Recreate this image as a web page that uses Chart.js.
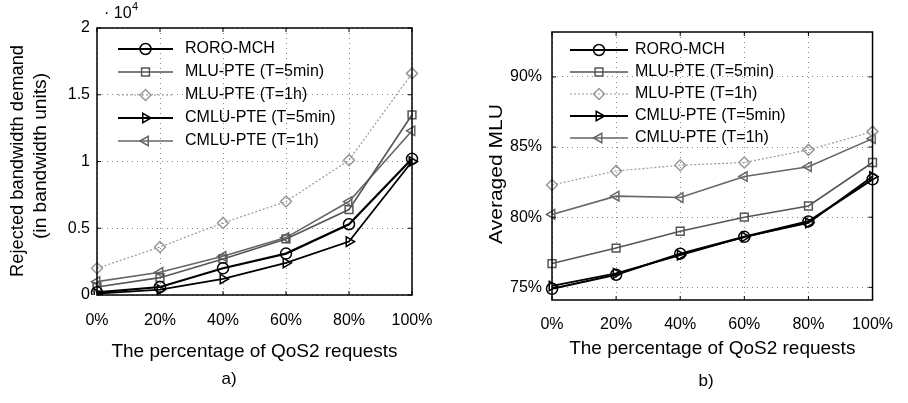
<!DOCTYPE html>
<html>
<head>
<meta charset="utf-8">
<script src="https://cdn.jsdelivr.net/npm/chart.js@4"></script>
<style>
  body { margin: 0; background: #fff; }
  .wrap { position: absolute; top: 0; width: 454px; height: 403px; }
</style>
</head>
<body>
<div class="wrap" style="left:0"><canvas id="chartA" width="454" height="403"></canvas></div>
<div class="wrap" style="left:454px"><canvas id="chartB" width="454" height="403"></canvas></div>
<script>
const FONT = "'Liberation Sans', Arial, Helvetica, sans-serif";

const labels = ['0%', '20%', '40%', '60%', '80%', '100%'];
const seriesNames = ['RORO-MCH', 'MLU-PTE (T=5min)', 'MLU-PTE (T=1h)', 'CMLU-PTE (T=5min)', 'CMLU-PTE (T=1h)'];

// a) rejected bandwidth demand, x 10^4
const roroA = [0.02, 0.06, 0.20, 0.31, 0.53, 1.02];
const mlu5A = [0.06, 0.13, 0.27, 0.42, 0.64, 1.35];
const mlu1hA = [0.20, 0.36, 0.54, 0.70, 1.01, 1.66];
const cmlu5A = [0.01, 0.04, 0.12, 0.24, 0.40, 1.00];
const cmlu1hA = [0.10, 0.17, 0.29, 0.43, 0.70, 1.23];
const yTicksA = [0, 0.5, 1, 1.5, 2];

// b) averaged MLU (%)
const roroB = [74.9, 75.9, 77.4, 78.6, 79.7, 82.7];
const mlu5B = [76.7, 77.8, 79.0, 80.0, 80.8, 83.9];
const mlu1hB = [82.3, 83.3, 83.7, 83.9, 84.8, 86.1];
const cmlu5B = [75.1, 76.0, 77.3, 78.6, 79.6, 82.9];
const cmlu1hB = [80.2, 81.5, 81.4, 82.9, 83.6, 85.6];
const yTicksB = [75, 80, 85, 90];

// line looks for the 5 series
const styles = [
    { color: '#000', width: 2.2, dash: [], point: 'circle', rot: 0 },
    { color: '#555', width: 1.6, dash: [], point: 'rect', rot: 0 },
    { color: '#999', width: 1.2, dash: [2, 2], point: 'rectRot', rot: 0 },
    { color: '#000', width: 1.8, dash: [], point: 'triangle', rot: 90 },
    { color: '#666', width: 1.6, dash: [], point: 'triangle', rot: -90 }
];

function makeDatasets(list) {
    return list.map((values, i) => ({
        label: seriesNames[i],
        data: values,
        borderColor: styles[i].color,
        borderWidth: styles[i].width,
        borderDash: styles[i].dash,
        pointStyle: styles[i].point,
        rotation: styles[i].rot,
        pointRadius: 5.5,
        pointBorderWidth: 1.5,
        pointBorderColor: styles[i].color,
        pointBackgroundColor: 'rgba(0,0,0,0)',
        tension: 0,
        fill: false
    }));
}

// box, inward ticks, legend inside the plot and the extra texts
const framePlugin = {
    id: 'frame',
    afterDraw(chart, args, opts) {
        const ctx = chart.ctx;
        const a = chart.chartArea;
        const xs = chart.scales.x, ys = chart.scales.y;
        ctx.save();
        ctx.strokeStyle = '#000';
        ctx.lineWidth = 1.5;
        ctx.setLineDash([]);
        ctx.strokeRect(a.left, a.top, a.right - a.left, a.bottom - a.top);
        ctx.lineWidth = 1;
        ctx.beginPath();
        xs.ticks.forEach((t, i) => {
            const x = xs.getPixelForTick(i);
            ctx.moveTo(x, a.bottom); ctx.lineTo(x, a.bottom - 4);
            ctx.moveTo(x, a.top); ctx.lineTo(x, a.top + 4);
        });
        ys.ticks.forEach((t, i) => {
            const y = ys.getPixelForTick(i);
            ctx.moveTo(a.left, y); ctx.lineTo(a.left + 4, y);
            ctx.moveTo(a.right, y); ctx.lineTo(a.right - 4, y);
        });
        ctx.stroke();

        // legend
        const lg = opts.legend;
        ctx.font = '16px ' + FONT;
        ctx.textBaseline = 'middle';
        chart.data.datasets.forEach((ds, i) => {
            const y = lg.y + i * lg.step;
            ctx.strokeStyle = ds.borderColor;
            ctx.lineWidth = ds.borderWidth;
            ctx.setLineDash(ds.borderDash);
            ctx.beginPath();
            ctx.moveTo(lg.x0, y); ctx.lineTo(lg.x1, y);
            ctx.stroke();
            ctx.setLineDash([]);
            ctx.lineWidth = ds.pointBorderWidth;
            ctx.fillStyle = 'rgba(0,0,0,0)';
            Chart.helpers.drawPoint(ctx, {
                pointStyle: ds.pointStyle, rotation: ds.rotation,
                radius: 5.5, borderWidth: ds.pointBorderWidth
            }, (lg.x0 + lg.x1) / 2, y);
            ctx.fillStyle = '#000';
            ctx.fillText(ds.label, lg.tx, y);
        });

        // y axis title, stretched along its length like the scan
        ctx.fillStyle = '#000';
        opts.ytitle.lines.forEach(l => {
            ctx.save();
            ctx.font = opts.ytitle.size + 'px ' + FONT;
            ctx.translate(l.x, l.y);
            ctx.rotate(-Math.PI / 2);
            const w = ctx.measureText(l.text).width;
            ctx.scale(l.len / w, 1);
            ctx.textAlign = 'center';
            ctx.textBaseline = 'middle';
            ctx.fillText(l.text, 0, 0);
            ctx.restore();
        });

        // exponent label
        if (opts.exp) {
            ctx.font = '16px ' + FONT;
            ctx.textBaseline = 'alphabetic';
            ctx.fillText('\u00b7 10', opts.exp.x, opts.exp.y);
            ctx.font = '11px ' + FONT;
            ctx.fillText('4', opts.exp.x + 28, opts.exp.y - 8);
        }
        // panel letter
        ctx.font = '17px ' + FONT;
        ctx.textAlign = 'center';
        ctx.textBaseline = 'middle';
        ctx.fillText(opts.letter.text, opts.letter.x, opts.letter.y);
        ctx.restore();
    }
};

function buildChart(id, datasets, yMin, yMax, yTicks, fmt, layout, extra) {
    return new Chart(document.getElementById(id), {
        type: 'line',
        data: { labels: labels, datasets: datasets },
        plugins: [framePlugin],
        options: {
            responsive: false,
            animation: false,
            layout: { padding: layout.padding },
            plugins: {
                legend: { display: false },
                tooltip: { enabled: false },
                frame: extra
            },
            scales: {
                x: {
                    offset: false,
                    grid: { color: '#888', lineWidth: 1, drawTicks: false },
                    border: { display: false, dash: [1, 4] },
                    ticks: { color: '#000', font: { family: FONT, size: 16 }, padding: layout.xTickPad, maxRotation: 0 },
                    title: { display: true, text: 'The percentage of QoS2 requests', color: '#000',
                             font: { family: FONT, size: 19 }, padding: { bottom: layout.xTitlePad } },
                    afterFit: s => { s.height = layout.xHeight; }
                },
                y: {
                    min: yMin,
                    max: yMax,
                    grid: { color: '#888', lineWidth: 1, drawTicks: false },
                    border: { display: false, dash: [1, 4] },
                    ticks: { color: '#000', font: { family: FONT, size: 16 }, padding: layout.yTickPad, callback: fmt },
                    afterBuildTicks: s => { s.ticks = yTicks.map(v => ({ value: v })); },
                    afterFit: s => { s.width = layout.yWidth; }
                }
            }
        }
    });
}

buildChart('chartA', makeDatasets([roroA, mlu5A, mlu1hA, cmlu5A, cmlu1hA]), 0, 2, yTicksA,
    v => String(v),
    { padding: { left: 0, right: 42, top: 28, bottom: 0 }, yWidth: 97, xHeight: 108,
      xTickPad: 16, xTitlePad: 40, yTickPad: 7 },
    { legend: { x0: 118, x1: 173, tx: 185, y: 49, step: 23 },
      ytitle: { size: 19, lines: [
          { text: 'Rejected bandwidth demand', x: 18, y: 161, len: 232 },
          { text: '(in bandwidth units)', x: 41, y: 156, len: 166 } ] },
      exp: { x: 104, y: 18 }, letter: { text: 'a)', x: 229, y: 379 } });

buildChart('chartB', makeDatasets([roroB, mlu5B, mlu1hB, cmlu5B, cmlu1hB]), 74.1, 93.2, yTicksB,
    v => v + '%',
    { padding: { left: 0, right: 21, top: 32, bottom: 0 }, yWidth: 98, xHeight: 103,
      xTickPad: 15, xTitlePad: 43, yTickPad: 10 },
    { legend: { x0: 116, x1: 174, tx: 181, y: 50, step: 22 },
      ytitle: { size: 19, lines: [
          { text: 'Averaged MLU', x: 43, y: 174, len: 140 } ] },
      exp: null, letter: { text: 'b)', x: 252, y: 381 } });
</script>
</body>
</html>
